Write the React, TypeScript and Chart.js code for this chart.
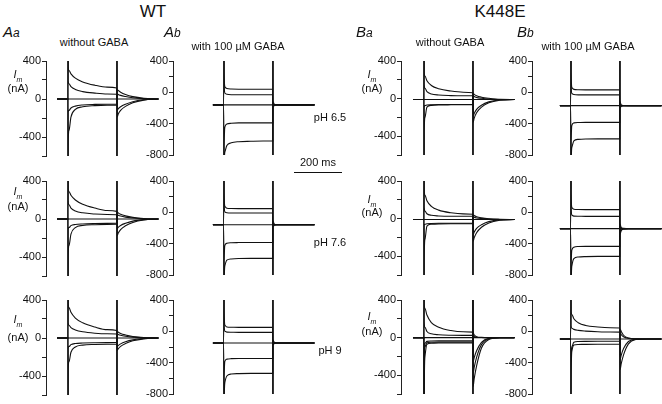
import React, { useEffect, useRef } from "react";
import { Chart, registerables } from "chart.js";
Chart.register(...registerables);

// time grid (ms) shared by every trace; pulse from 0 to 200 ms
const T_MS = [-45, -0.5, 0, 1, 4, 12, 30, 60, 110, 160, 199.5, 200, 201, 205, 215, 235, 265, 310, 370];

const TICK_VALUES_A = [400, 0, -400];
const TICK_VALUES_B = [400, 0, -400, -800];

// ---- WT, without GABA ----
const WT_NOGABA_PH65 = [
  [0, 0, 3000, 330, 300, 265, 220, 180, 145, 125, 115, -3000, 100, 90, 72, 48, 25, 8, 0],
  [0, 0, 3000, 190, 160, 130, 100, 78, 62, 53, 50, -3000, 55, 48, 38, 26, 13, 4, 0],
  [0, 0, 0, 0, 0, 0, 0, 0, 0, 0, 0, 0, 0, 0, 0, 0, 0, 0, 0],
  [0, 0, -3000, -140, -120, -95, -75, -63, -57, -55, -55, 3000, -120, -105, -82, -55, -28, -8, 0],
  [0, 0, -3000, -450, -330, -190, -110, -82, -70, -66, -65, 3000, -190, -160, -120, -78, -40, -12, 0],
];
const WT_NOGABA_PH76 = [
  [0, 0, 3000, 320, 290, 250, 200, 155, 115, 90, 80, -3000, 75, 65, 50, 33, 17, 5, 0],
  [0, 0, 3000, 180, 150, 115, 85, 65, 52, 47, 45, -3000, 45, 40, 31, 20, 10, 3, 0],
  [0, 0, 0, 0, 0, 0, 0, 0, 0, 0, 0, 0, 0, 0, 0, 0, 0, 0, 0],
  [0, 0, -3000, -110, -90, -70, -58, -52, -48, -46, -45, 3000, -100, -88, -68, -45, -22, -7, 0],
  [0, 0, -3000, -380, -280, -160, -90, -68, -60, -57, -56, 3000, -175, -150, -112, -72, -36, -10, 0],
];
const WT_NOGABA_PH9 = [
  [0, 0, 3000, 360, 320, 270, 210, 160, 115, 88, 78, -3000, 72, 62, 48, 32, 16, 5, 0],
  [0, 0, 3000, 160, 135, 110, 85, 65, 50, 44, 42, -3000, 42, 37, 28, 18, 9, 3, 0],
  [0, 0, 0, 0, 0, 0, 0, 0, 0, 0, 0, 0, 0, 0, 0, 0, 0, 0, 0],
  [0, 0, -3000, -110, -90, -70, -58, -53, -50, -49, -48, 3000, -90, -80, -62, -40, -20, -6, 0],
  [0, 0, -3000, -330, -250, -150, -95, -75, -68, -65, -64, 3000, -130, -115, -88, -58, -29, -9, 0],
];

// ---- WT, with 100 uM GABA ----
const WT_GABA_PH65 = [
  [-160, -160, 3000, 260, 70, 48, 42, 40, 40, 40, 40, -3000, -120, -150, -158, -160, -160, -160, -160],
  [-160, -160, 3000, 150, -10, -25, -30, -30, -30, -30, -30, -3000, -140, -155, -160, -160, -160, -160, -160],
  [-160, -160, -160, -160, -160, -160, -160, -160, -160, -160, -160, -160, -160, -160, -160, -160, -160, -160, -160],
  [-160, -160, -3000, -750, -440, -405, -395, -390, -390, -390, -390, 3000, -180, -165, -160, -160, -160, -160, -160],
  [-160, -160, -3000, -1000, -760, -680, -645, -630, -625, -622, -620, 3000, -190, -168, -160, -160, -160, -160, -160],
];
const WT_GABA_PH76 = [
  [-158, -158, 3000, 250, 75, 52, 48, 47, 47, 47, 47, -3000, -110, -150, -157, -158, -158, -158, -158],
  [-158, -158, 3000, 140, 5, -5, -8, -8, -8, -8, -8, -3000, -130, -152, -158, -158, -158, -158, -158],
  [-158, -158, -158, -158, -158, -158, -158, -158, -158, -158, -158, -158, -158, -158, -158, -158, -158, -158, -158],
  [-158, -158, -3000, -700, -420, -395, -388, -386, -385, -385, -385, 3000, -175, -162, -158, -158, -158, -158, -158],
  [-158, -158, -3000, -950, -680, -610, -595, -590, -588, -588, -588, 3000, -185, -165, -158, -158, -158, -158, -158],
];
const WT_GABA_PH9 = [
  [-148, -148, 3000, 260, 80, 55, 52, 51, 51, 51, 51, -3000, -110, -140, -147, -148, -148, -148, -148],
  [-148, -148, 3000, 120, 0, -10, -12, -13, -13, -13, -13, -3000, -125, -145, -148, -148, -148, -148, -148],
  [-148, -148, -148, -148, -148, -148, -148, -148, -148, -148, -148, -148, -148, -148, -148, -148, -148, -148, -148],
  [-148, -148, -3000, -650, -380, -355, -349, -347, -347, -347, -347, 3000, -165, -152, -148, -148, -148, -148, -148],
  [-148, -148, -3000, -950, -650, -570, -545, -540, -537, -537, -537, 3000, -175, -155, -148, -148, -148, -148, -148],
];

// ---- K448E, without GABA ----
const K448E_NOGABA_PH65 = [
  [-10, -10, 3000, 280, 240, 190, 140, 105, 80, 68, 62, -3000, 55, 45, 30, 15, 3, -8, -10],
  [-10, -10, 3000, 150, 110, 75, 50, 38, 32, 30, 30, -3000, 30, 22, 12, 3, -5, -9, -10],
  [-10, -10, -10, -10, -10, -10, -10, -10, -10, -10, -10, -10, -10, -10, -10, -10, -10, -10, -10],
  [-10, -10, -3000, -90, -75, -68, -65, -63, -62, -62, -62, 3000, -190, -160, -115, -70, -35, -15, -10],
  [-10, -10, -3000, -350, -200, -90, -72, -68, -66, -65, -65, 3000, -250, -210, -150, -90, -45, -18, -10],
];
const K448E_NOGABA_PH76 = [
  [-10, -10, 3000, 300, 250, 190, 130, 90, 62, 50, 46, -3000, 40, 32, 20, 8, -2, -8, -10],
  [-10, -10, 3000, 120, 80, 52, 35, 28, 25, 25, 25, -3000, 22, 15, 7, 0, -6, -9, -10],
  [-10, -10, -10, -10, -10, -10, -10, -10, -10, -10, -10, -10, -10, -10, -10, -10, -10, -10, -10],
  [-10, -10, -3000, -70, -60, -55, -52, -50, -50, -50, -50, 3000, -170, -145, -105, -65, -32, -14, -10],
  [-10, -10, -3000, -420, -220, -80, -60, -56, -55, -55, -55, 3000, -240, -205, -150, -92, -46, -18, -10],
];
const K448E_NOGABA_PH9 = [
  [0, 0, 3000, 360, 310, 240, 160, 110, 75, 62, 58, -3000, 50, 30, 10, 2, 0, 0, 0],
  [0, 0, 3000, 170, 110, 65, 40, 30, 25, 24, 24, -3000, 20, 12, 4, 1, 0, 0, 0],
  [0, 0, 0, 0, 0, 0, 0, 0, 0, 0, 0, 0, 0, 0, 0, 0, 0, 0, 0],
  [0, 0, -3000, -120, -60, -40, -36, -35, -35, -35, -35, 3000, -260, -215, -140, -50, -8, 0, 0],
  [0, 0, -3000, -300, -100, -55, -50, -48, -48, -48, -48, 3000, -380, -320, -210, -75, -12, 0, 0],
  [0, 0, -3000, -600, -200, -70, -60, -58, -58, -58, -58, 3000, -520, -440, -300, -110, -20, 0, 0],
];

// ---- K448E, with 100 uM GABA ----
const K448E_GABA_PH65 = [
  [-170, -170, 3000, 250, 60, 38, 33, 32, 32, 32, 32, -3000, -120, -160, -168, -170, -170, -170, -170],
  [-170, -170, 3000, 120, -15, -28, -32, -32, -32, -32, -32, -3000, -150, -165, -170, -170, -170, -170, -170],
  [-170, -170, -170, -170, -170, -170, -170, -170, -170, -170, -170, -170, -170, -170, -170, -170, -170, -170, -170],
  [-170, -170, -3000, -700, -420, -390, -385, -383, -383, -383, -383, 3000, -190, -175, -170, -170, -170, -170, -170],
  [-170, -170, -3000, -950, -700, -620, -600, -595, -594, -594, -594, 3000, -200, -178, -170, -170, -170, -170, -170],
];
const K448E_GABA_PH76 = [
  [-208, -208, 3000, 240, 60, 40, 36, 35, 35, 35, 35, -3000, -150, -195, -205, -208, -208, -208, -208],
  [-208, -208, 3000, 100, -35, -48, -50, -51, -51, -51, -51, -3000, -170, -200, -206, -208, -208, -208, -208],
  [-208, -208, -208, -208, -208, -208, -208, -208, -208, -208, -208, -208, -208, -208, -208, -208, -208, -208, -208],
  [-208, -208, -3000, -750, -480, -445, -436, -434, -434, -434, -434, 3000, -260, -225, -212, -208, -208, -208, -208],
  [-208, -208, -3000, -1000, -680, -590, -570, -565, -562, -562, -562, 3000, -280, -235, -214, -208, -208, -208, -208],
];
const K448E_GABA_PH9 = [
  [-97, -97, 3000, 250, 215, 160, 110, 75, 55, 46, 43, -3000, 30, 0, -50, -85, -95, -97, -97],
  [-97, -97, 3000, 60, 40, 25, 12, 3, -5, -9, -10, -3000, -20, -40, -70, -90, -96, -97, -97],
  [-97, -97, -97, -97, -97, -97, -97, -97, -97, -97, -97, -97, -97, -97, -97, -97, -97, -97, -97],
  [-97, -97, -3000, -400, -200, -140, -130, -128, -127, -127, -127, 3000, -360, -310, -220, -130, -100, -97, -97],
  [-97, -97, -3000, -600, -250, -175, -168, -166, -165, -165, -165, 3000, -490, -420, -300, -160, -105, -97, -97],
];

// ---- layout (pixels) ----
const PX_PER_MS = 0.245;
const X_MAX = 372;
const YW = 34; // y-axis width in px
const PT = 8;
const PB = 8;
const PR = 2;
const FONT = '"Liberation Sans", Arial, Helvetica, sans-serif';

type Panel = {
  traces: number[][];
  axisX: number;
  top: number;
  px400: number;
  yMin: number;
  xMin: number;
  ticks: number[];
};

const ROW_TOPS = [61, 181, 300];

const PANELS: Panel[] = [
  { traces: WT_NOGABA_PH65, axisX: 46, top: ROW_TOPS[0], px400: 38, yMin: -600, xMin: -90, ticks: TICK_VALUES_A },
  { traces: WT_GABA_PH65, axisX: 173, top: ROW_TOPS[0], px400: 31.3, yMin: -800, xMin: -208, ticks: TICK_VALUES_B },
  { traces: K448E_NOGABA_PH65, axisX: 401, top: ROW_TOPS[0], px400: 37.5, yMin: -600, xMin: -94, ticks: TICK_VALUES_A },
  { traces: K448E_GABA_PH65, axisX: 532, top: ROW_TOPS[0], px400: 31.3, yMin: -800, xMin: -159, ticks: TICK_VALUES_B },
  { traces: WT_NOGABA_PH76, axisX: 46, top: ROW_TOPS[1], px400: 38, yMin: -600, xMin: -90, ticks: TICK_VALUES_A },
  { traces: WT_GABA_PH76, axisX: 173, top: ROW_TOPS[1], px400: 31.3, yMin: -800, xMin: -208, ticks: TICK_VALUES_B },
  { traces: K448E_NOGABA_PH76, axisX: 401, top: ROW_TOPS[1], px400: 37.5, yMin: -600, xMin: -94, ticks: TICK_VALUES_A },
  { traces: K448E_GABA_PH76, axisX: 532, top: ROW_TOPS[1], px400: 31.3, yMin: -800, xMin: -159, ticks: TICK_VALUES_B },
  { traces: WT_NOGABA_PH9, axisX: 46, top: ROW_TOPS[2], px400: 38, yMin: -600, xMin: -90, ticks: TICK_VALUES_A },
  { traces: WT_GABA_PH9, axisX: 173, top: ROW_TOPS[2], px400: 31.3, yMin: -800, xMin: -208, ticks: TICK_VALUES_B },
  { traces: K448E_NOGABA_PH9, axisX: 401, top: ROW_TOPS[2], px400: 37.5, yMin: -600, xMin: -94, ticks: TICK_VALUES_A },
  { traces: K448E_GABA_PH9, axisX: 532, top: ROW_TOPS[2], px400: 31.3, yMin: -800, xMin: -159, ticks: TICK_VALUES_B },
];

function TracePanel({ p }: { p: Panel }) {
  const ref = useRef<HTMLCanvasElement | null>(null);
  const areaW = Math.round((X_MAX - p.xMin) * PX_PER_MS);
  const areaH = Math.round(((400 - p.yMin) / 400) * p.px400);
  const w = YW + areaW + PR;
  const h = PT + areaH + PB;
  useEffect(() => {
    if (!ref.current) return;
    const chart = new Chart(ref.current, {
      type: "line",
      data: {
        datasets: p.traces.map((vals) => ({
          data: vals.map((v, i) => ({ x: T_MS[i], y: v })),
          borderColor: "#111",
          borderWidth: 1.1,
          pointRadius: 0,
          fill: false,
          cubicInterpolationMode: "monotone" as const,
        })),
      },
      options: {
        animation: false,
        responsive: false,
        events: [],
        layout: { padding: { top: PT, bottom: PB, right: PR, left: 0 } },
        plugins: { legend: { display: false }, tooltip: { enabled: false } },
        scales: {
          x: { type: "linear", display: false, min: p.xMin, max: X_MAX },
          y: {
            type: "linear",
            min: p.yMin,
            max: 400,
            afterFit: (s: any) => {
              s.width = YW;
            },
            border: { display: true, color: "#222", width: 1 },
            grid: { display: true, drawOnChartArea: false, drawTicks: true, tickLength: 4, tickColor: "#222" },
            ticks: {
              stepSize: 200,
              autoSkip: false,
              padding: 1,
              color: "#111",
              font: { family: FONT, size: 11 },
              callback: (v: any) => (p.ticks.includes(Number(v)) ? String(v) : ""),
            },
          },
        },
      },
    });
    return () => chart.destroy();
  }, [p]);
  return (
    <canvas
      ref={ref}
      width={w}
      height={h}
      style={{ position: "absolute", left: p.axisX - YW, top: p.top - PT, width: w, height: h }}
    />
  );
}

function Label({ x, y, size, children, italic }: { x: number; y: number; size: number; children: any; italic?: boolean }) {
  return (
    <div
      style={{
        position: "absolute",
        left: x,
        top: y,
        transform: "translate(-50%, -50%)",
        fontFamily: FONT,
        fontSize: size,
        fontStyle: italic ? "italic" : "normal",
        lineHeight: 1,
        whiteSpace: "nowrap",
        color: "#111",
      }}
    >
      {children}
    </div>
  );
}

function PanelTag({ x, y, big, small }: { x: number; y: number; big: string; small: string }) {
  return (
    <div style={{ position: "absolute", left: x, top: y, fontFamily: FONT, fontStyle: "italic", lineHeight: 1, color: "#111" }}>
      <span style={{ fontSize: 15 }}>{big}</span>
      <span style={{ fontSize: 12 }}>{small}</span>
    </div>
  );
}

function ImLabel({ x, y1, y2 }: { x: number; y1: number; y2: number }) {
  return (
    <>
      <Label x={x} y={y1} size={11} italic>
        I<sub style={{ fontSize: 7 }}>m</sub>
      </Label>
      <Label x={x} y={y2} size={11}>
        (nA)
      </Label>
    </>
  );
}

export default function App() {
  return (
    <div style={{ position: "absolute", left: 0, top: 0, width: 662, height: 404, background: "#fff", overflow: "hidden" }}>
      {PANELS.map((p, i) => (
        <TracePanel key={i} p={p} />
      ))}
      <Label x={153} y={11} size={17}>WT</Label>
      <Label x={500} y={11} size={17}>K448E</Label>
      <PanelTag x={3} y={24} big="A" small="a" />
      <PanelTag x={164} y={24} big="A" small="b" />
      <PanelTag x={356} y={24} big="B" small="a" />
      <PanelTag x={517} y={24} big="B" small="b" />
      <Label x={94} y={42} size={11}>without GABA</Label>
      <Label x={238} y={46} size={11}>with 100 µM GABA</Label>
      <Label x={450} y={42} size={11}>without GABA</Label>
      <Label x={588} y={46} size={11}>with 100 µM GABA</Label>
      <ImLabel x={18} y1={76} y2={88} />
      <ImLabel x={18} y1={193} y2={206} />
      <ImLabel x={18} y1={321} y2={337} />
      <ImLabel x={372} y1={76} y2={88} />
      <ImLabel x={372} y1={201} y2={212} />
      <ImLabel x={372} y1={318} y2={331} />
      <Label x={330} y={117} size={11}>pH 6.5</Label>
      <Label x={330} y={242} size={11}>pH 7.6</Label>
      <Label x={330} y={350} size={11}>pH 9</Label>
      <Label x={318} y={162} size={11}>200 ms</Label>
      <div style={{ position: "absolute", left: 294, top: 172, width: 48, height: 1, background: "#111" }} />
    </div>
  );
}
